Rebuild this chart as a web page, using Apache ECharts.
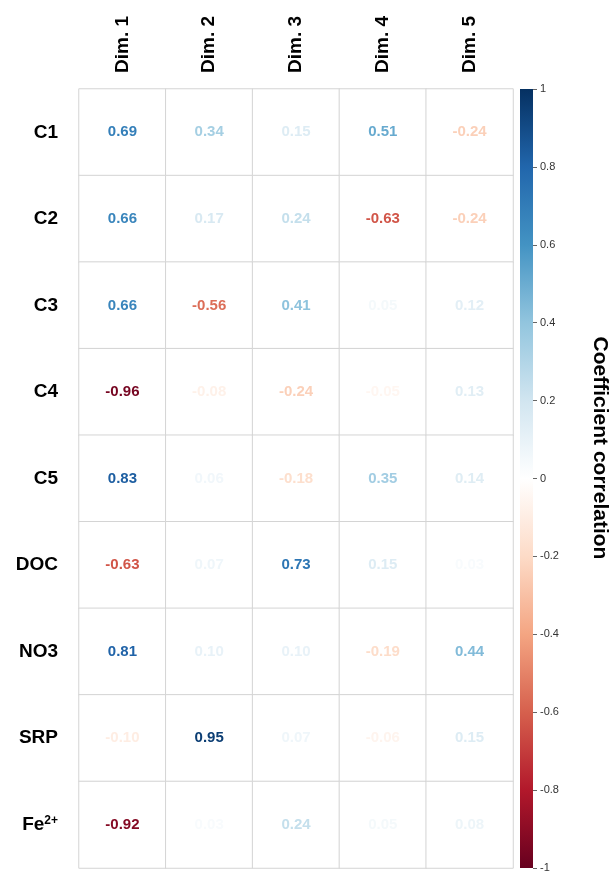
<!DOCTYPE html>
<html>
<head>
<meta charset="utf-8">
<script src="https://cdn.jsdelivr.net/npm/echarts@6/dist/echarts.min.js"></script>
<style>
  html, body { margin: 0; padding: 0; background: #fff; }
  #chart { width: 616px; height: 874px; }
</style>
</head>
<body>
<div id="chart"></div>
<script>
// variables (rows, top to bottom) and dimensions (columns)
const variables = ['C1', 'C2', 'C3', 'C4', 'C5', 'DOC', 'NO3', 'SRP', 'Fe2+']
const dims = ['Dim. 1', 'Dim. 2', 'Dim. 3', 'Dim. 4', 'Dim. 5']

// correlation of each variable with each dimension
const dim1 = [0.69, 0.66, 0.66, -0.96, 0.83, -0.63, 0.81, -0.10, -0.92]
const dim2 = [0.34, 0.17, -0.56, -0.08, 0.06, 0.07, 0.10, 0.95, 0.03]
const dim3 = [0.15, 0.24, 0.41, -0.24, -0.18, 0.73, 0.10, 0.07, 0.24]
const dim4 = [0.51, -0.63, 0.05, -0.05, 0.35, 0.15, -0.19, -0.06, 0.05]
const dim5 = [-0.24, -0.24, 0.12, 0.13, 0.14, 0.03, 0.44, 0.15, 0.08]

// colour bar range
const cbMin = -1
const cbMax = 1

// RdBu palette from -1 to 1
const palette = ['#67001F', '#B2182B', '#D6604D', '#F4A582', '#FDDBC7', '#FFFFFF',
  '#D1E5F0', '#92C5DE', '#4393C3', '#2166AC', '#053061']

const columns = [dim1, dim2, dim3, dim4, dim5]
const cells = []
columns.forEach((col, j) => {
  col.forEach((v, i) => {
    cells.push({
      value: [j, i, v],
      label: { color: echarts.color.lerp((v - cbMin) / (cbMax - cbMin), palette) }
    })
  })
})

const fontFam = '"Liberation Sans", Arial, sans-serif'
const myChart = echarts.init(document.getElementById('chart'))
const option = {
  backgroundColor: '#fff',
  animation: false,
  grid: [
    { left: 79, right: 103, top: 89, bottom: 6 },
    { left: 520, width: 13, top: 89, bottom: 6 }
  ],
  graphic: [
    {
      type: 'text',
      x: 600,
      y: 448,
      rotation: -Math.PI / 2,
      style: {
        text: 'Coefficient correlation',
        fontSize: 21,
        fontWeight: 'bold',
        fill: '#000',
        fontFamily: fontFam,
        align: 'center',
        verticalAlign: 'middle'
      }
    }
  ],
  xAxis: [
    {
      gridIndex: 0,
      type: 'category',
      position: 'top',
      data: dims,
      axisLine: { show: false },
      axisTick: { show: false },
      axisLabel: {
        rotate: -90,
        margin: 16,
        fontSize: 19,
        fontWeight: 'bold',
        color: '#000',
        fontFamily: fontFam
      }
    },
    {
      gridIndex: 1,
      type: 'category',
      data: ['cb'],
      show: false
    }
  ],
  yAxis: [
    {
      gridIndex: 0,
      type: 'category',
      inverse: true,
      data: variables,
      axisLine: { show: false },
      axisTick: { show: false },
      axisLabel: {
        margin: 21,
        fontSize: 19,
        fontWeight: 'bold',
        color: '#000',
        fontFamily: fontFam,
        formatter: v => v === 'Fe2+' ? 'Fe{sup|2+}' : v,
        rich: {
          sup: { fontSize: 12, fontWeight: 'bold', color: '#000', fontFamily: fontFam, verticalAlign: 'top', padding: [0, 0, 8, 0] }
        }
      }
    },
    {
      gridIndex: 1,
      type: 'value',
      position: 'right',
      min: cbMin,
      max: cbMax,
      interval: 0.2,
      splitLine: { show: false },
      axisLine: { show: false },
      axisTick: { show: true, length: 4, lineStyle: { color: '#666' } },
      axisLabel: {
        margin: 7,
        fontSize: 11,
        color: '#333',
        fontFamily: fontFam,
        formatter: v => String(Math.round(v * 10) / 10)
      }
    }
  ],
  series: [
    {
      type: 'heatmap',
      xAxisIndex: 0,
      yAxisIndex: 0,
      data: cells,
      itemStyle: { color: '#fff', borderColor: '#d4d4d4', borderWidth: 1 },
      label: {
        show: true,
        fontSize: 15,
        fontWeight: 'bold',
        fontFamily: fontFam,
        formatter: p => p.value[2].toFixed(2)
      },
      emphasis: { disabled: true }
    },
    {
      type: 'bar',
      xAxisIndex: 1,
      yAxisIndex: 1,
      barWidth: '100%',
      data: [cbMax],
      itemStyle: {
        color: new echarts.graphic.LinearGradient(0, 0, 0, 1, [
          { offset: 0, color: '#053061' },
          { offset: 0.2, color: '#2166AC' },
          { offset: 0.4, color: '#4393C3' },
          { offset: 0.6, color: '#92C5DE' },
          { offset: 0.8, color: '#D1E5F0' },
          { offset: 1, color: '#FFFFFF' }
        ])
      },
      silent: true
    },
    {
      type: 'bar',
      xAxisIndex: 1,
      yAxisIndex: 1,
      barWidth: '100%',
      barGap: '-100%',
      data: [cbMin],
      itemStyle: {
        color: new echarts.graphic.LinearGradient(0, 0, 0, 1, [
          { offset: 0, color: '#FFFFFF' },
          { offset: 0.2, color: '#FDDBC7' },
          { offset: 0.4, color: '#F4A582' },
          { offset: 0.6, color: '#D6604D' },
          { offset: 0.8, color: '#B2182B' },
          { offset: 1, color: '#67001F' }
        ])
      },
      silent: true
    }
  ]
}
myChart.setOption(option)
</script>
</body>
</html>
